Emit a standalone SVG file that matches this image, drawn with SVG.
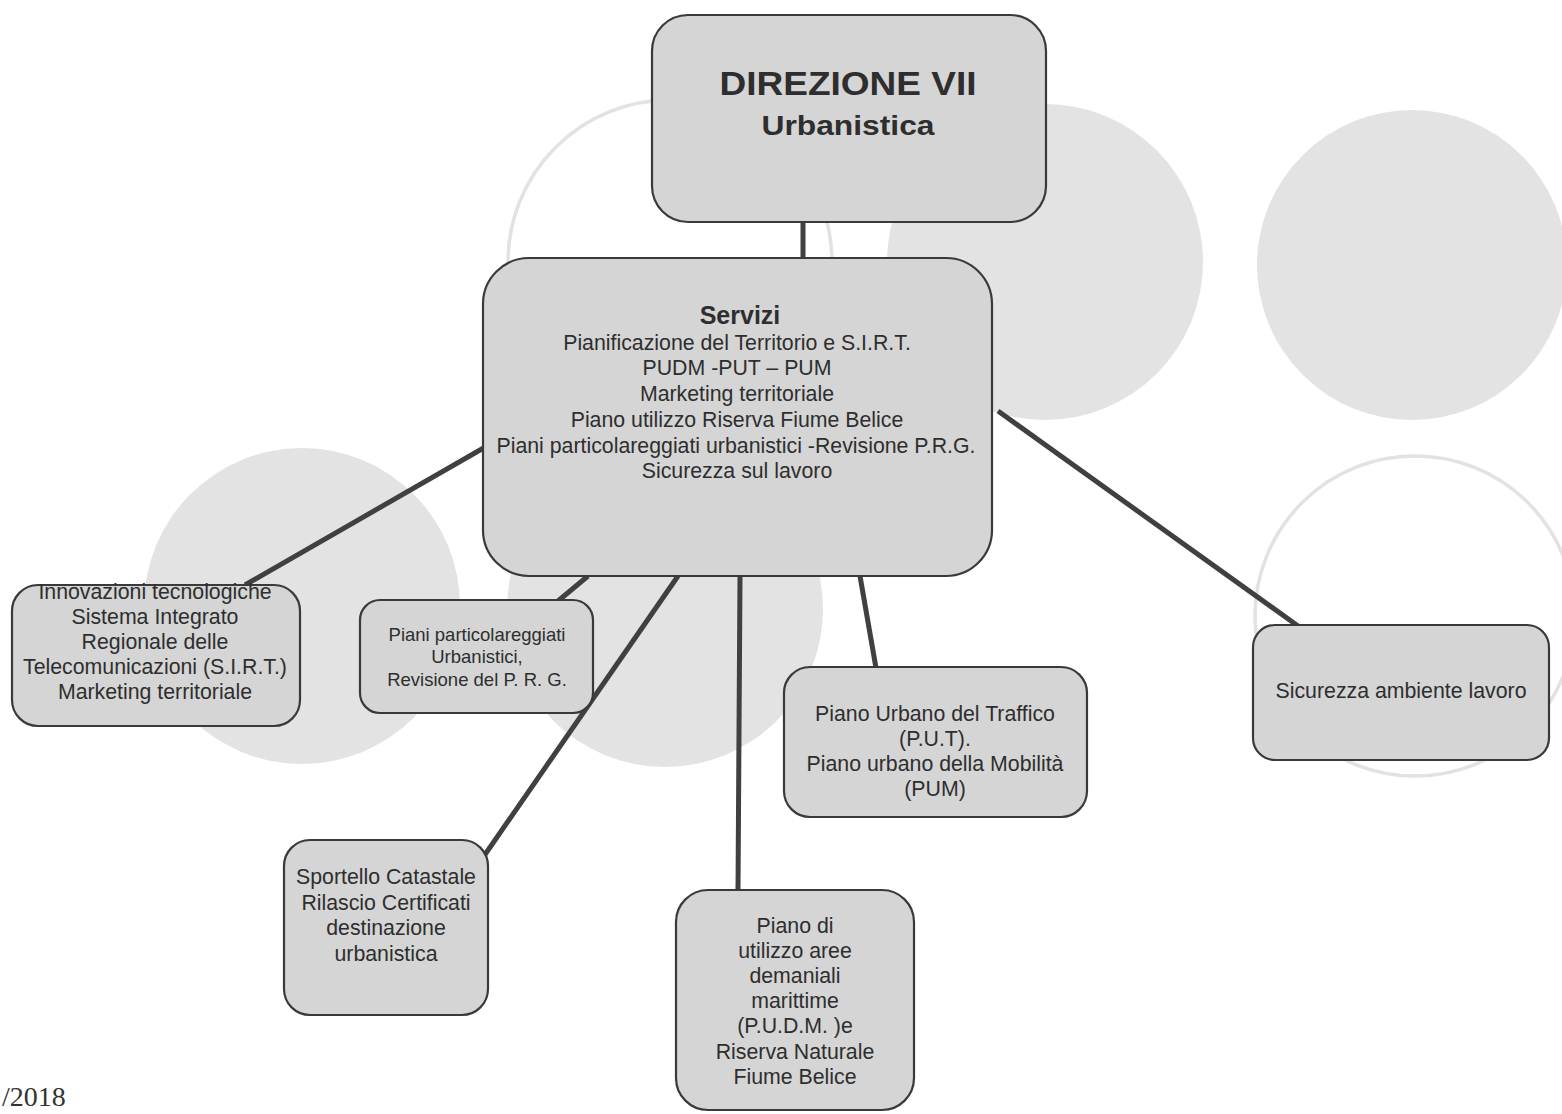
<svg xmlns="http://www.w3.org/2000/svg" width="1562" height="1114" viewBox="0 0 1562 1114">
<defs>
<style>
.bg{fill:#e3e3e3;stroke:none}
.ring{fill:none;stroke:#e2e2e2;stroke-width:3.5}
.box{fill:#d5d5d5;stroke:#3a3a3a;stroke-width:2.2}
.t{font-family:"Liberation Sans",Arial,sans-serif;fill:#2e2e2e;text-anchor:middle}
.n{font-size:21.3px}
.s{font-size:18.5px}
.b{font-weight:bold}
.c{fill:none;stroke:#404040;stroke-width:5;stroke-linecap:butt}
</style>
</defs>
<rect width="1562" height="1114" fill="#ffffff"/>
<g id="background">
<circle class="ring" cx="670" cy="262" r="162"/>
<circle class="bg" cx="1045" cy="262" r="158"/>
<circle class="bg" cx="1412" cy="265" r="155"/>
<circle class="bg" cx="302" cy="606" r="158"/>
<circle class="bg" cx="665" cy="609" r="158"/>
<circle class="ring" cx="1415" cy="616" r="160"/>
</g>
<g id="connectors">
<line class="c" x1="803" y1="222" x2="803" y2="259" stroke-width="6"/>
<line class="c" x1="487" y1="446" x2="245" y2="585"/>
<line class="c" x1="588" y1="576" x2="558" y2="601"/>
<line class="c" x1="678" y1="576" x2="484" y2="856"/>
<line class="c" x1="740" y1="576" x2="738" y2="891"/>
<line class="c" x1="860" y1="576" x2="876" y2="668"/>
<line class="c" x1="998" y1="411" x2="1298" y2="626" stroke-width="4"/>
</g>
<g id="direzione">
<rect class="box" x="652" y="15" width="394" height="207" rx="36"/>
<text class="t b" x="848" y="95" font-size="33" textLength="257" lengthAdjust="spacingAndGlyphs">DIREZIONE VII</text>
<text class="t b" x="848" y="135" font-size="28" textLength="173" lengthAdjust="spacingAndGlyphs">Urbanistica</text>
</g>
<g id="servizi">
<rect class="box" x="483" y="258" width="509" height="318" rx="46"/>
<text class="t b" x="740" y="324" font-size="25">Servizi</text>
<text class="t n" x="737" y="350">Pianificazione del Territorio e S.I.R.T.</text>
<text class="t n" x="737" y="375">PUDM -PUT – PUM</text>
<text class="t n" x="737" y="401">Marketing territoriale</text>
<text class="t n" x="737" y="427">Piano utilizzo Riserva Fiume Belice</text>
<text class="t n" x="736" y="453">Piani particolareggiati urbanistici -Revisione P.R.G.</text>
<text class="t n" x="737" y="478">Sicurezza sul lavoro</text>
</g>
<g id="innovazioni">
<rect class="box" x="12" y="585" width="288" height="141" rx="26"/>
<text class="t n" x="155" y="599">Innovazioni tecnologiche</text>
<text class="t n" x="155" y="624">Sistema Integrato</text>
<text class="t n" x="155" y="649">Regionale delle</text>
<text class="t n" x="155" y="674">Telecomunicazioni (S.I.R.T.)</text>
<text class="t n" x="155" y="699">Marketing territoriale</text>
</g>
<g id="piani">
<rect class="box" x="360" y="600" width="233" height="113" rx="20"/>
<text class="t s" x="477" y="641">Piani particolareggiati</text>
<text class="t s" x="477" y="663">Urbanistici,</text>
<text class="t s" x="477" y="686">Revisione del P. R. G.</text>
</g>
<g id="sportello">
<rect class="box" x="284" y="840" width="204" height="175" rx="26"/>
<text class="t n" x="386" y="884">Sportello Catastale</text>
<text class="t n" x="386" y="910">Rilascio Certificati</text>
<text class="t n" x="386" y="935">destinazione</text>
<text class="t n" x="386" y="961">urbanistica</text>
</g>
<g id="pudm">
<rect class="box" x="676" y="890" width="238" height="220" rx="32"/>
<text class="t n" x="795" y="933">Piano di</text>
<text class="t n" x="795" y="958">utilizzo aree</text>
<text class="t n" x="795" y="983">demaniali</text>
<text class="t n" x="795" y="1008">marittime</text>
<text class="t n" x="795" y="1033">(P.U.D.M. )e</text>
<text class="t n" x="795" y="1059">Riserva Naturale</text>
<text class="t n" x="795" y="1084">Fiume Belice</text>
</g>
<g id="put">
<rect class="box" x="784" y="667" width="303" height="150" rx="26"/>
<text class="t n" x="935" y="721">Piano Urbano del Traffico</text>
<text class="t n" x="935" y="746">(P.U.T).</text>
<text class="t n" x="935" y="771">Piano urbano della Mobilità</text>
<text class="t n" x="935" y="796">(PUM)</text>
</g>
<g id="sicurezza">
<rect class="box" x="1253" y="625" width="296" height="135" rx="22"/>
<text class="t n" x="1401" y="698">Sicurezza ambiente lavoro</text>
</g>
<text x="2" y="1106" font-family="'Liberation Serif','Times New Roman',serif" font-size="28" fill="#333">/2018</text>
</svg>
